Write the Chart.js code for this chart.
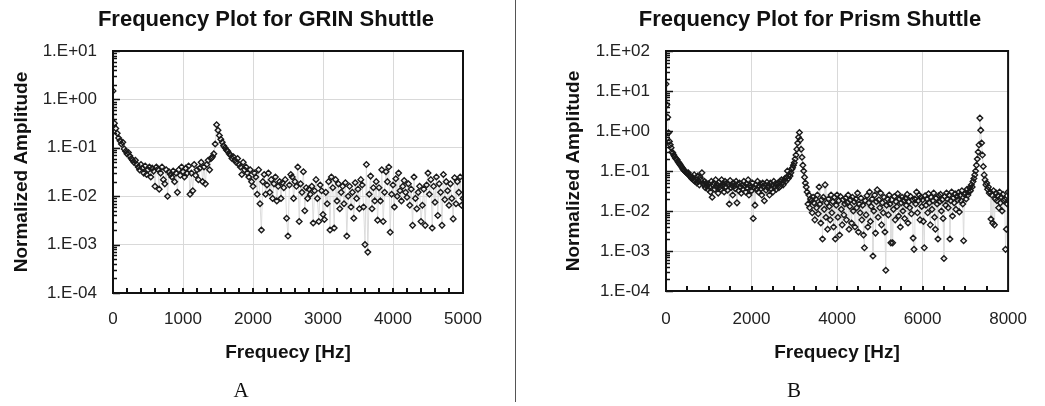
<!DOCTYPE html>
<html>
<head>
<meta charset="utf-8">
<script src="https://cdn.jsdelivr.net/npm/chart.js@4.4.1/dist/chart.umd.min.js"></script>
<style>
  body { margin: 0; background: #fff; width: 1045px; height: 406px; position: relative; overflow: hidden; font-family: "Liberation Sans", Arial, sans-serif; }
  canvas { position: absolute; top: 0; }
  #chartA { left: 0; }
  #chartB { left: 520px; }
  .title { position: absolute; top: 6px; font-weight: bold; font-size: 22px; line-height: 26px; white-space: nowrap; transform: translateX(-50%); color: #111; }
  .panel { position: absolute; top: 378px; font-family: "Liberation Serif", "Times New Roman", serif; font-size: 21px; line-height: 24px; transform: translateX(-50%); color: #111; }
  .divider { position: absolute; left: 515px; top: 0; width: 1px; height: 402px; background: #555; }
</style>
</head>
<body>
<canvas id="chartA" width="515" height="406"></canvas>
<canvas id="chartB" width="525" height="406"></canvas>
<div class="title" style="left:266px">Frequency Plot for GRIN Shuttle</div>
<div class="title" style="left:810px">Frequency Plot for Prism Shuttle</div>
<div class="divider"></div>
<div class="panel" style="left:241px">A</div>
<div class="panel" style="left:794px">B</div>
<script>
// GRIN shuttle: one reading every 20 Hz, 0..5000 Hz
const freqStepA = 20;
const ampA = [
  1.5, 0.32, 0.25, 0.2, 0.16, 0.14, 0.12, 0.13, 0.095, 0.085,
  0.075, 0.08, 0.068, 0.06, 0.055, 0.05, 0.055, 0.045, 0.04, 0.035,
  0.045, 0.038, 0.03, 0.042, 0.028, 0.035, 0.04, 0.025, 0.038, 0.033,
  0.016, 0.04, 0.036, 0.014, 0.03, 0.04, 0.022, 0.018, 0.035, 0.01,
  0.032, 0.028, 0.025, 0.033, 0.02, 0.03, 0.012, 0.035, 0.027, 0.04,
  0.032, 0.025, 0.038, 0.03, 0.042, 0.011, 0.03, 0.013, 0.045, 0.027,
  0.035, 0.022, 0.038, 0.05, 0.02, 0.04, 0.018, 0.045, 0.055, 0.035,
  0.06, 0.065, 0.075, 0.12, 0.3, 0.23, 0.18, 0.15, 0.13, 0.11,
  0.1, 0.09, 0.085, 0.075, 0.07, 0.06, 0.065, 0.055, 0.05, 0.06,
  0.045, 0.04, 0.028, 0.05, 0.035, 0.04, 0.03, 0.025, 0.035, 0.02,
  0.016, 0.03, 0.025, 0.011, 0.035, 0.007, 0.002, 0.02, 0.028, 0.011,
  0.017, 0.03, 0.012, 0.022, 0.009, 0.018, 0.025, 0.008, 0.016, 0.02,
  0.009, 0.019, 0.015, 0.022, 0.0035, 0.0015, 0.017, 0.028, 0.025, 0.009,
  0.02, 0.016, 0.04, 0.003, 0.018, 0.012, 0.032, 0.005, 0.015, 0.009,
  0.014, 0.011, 0.016, 0.0028, 0.013, 0.022, 0.009, 0.003, 0.017, 0.013,
  0.0042, 0.0033, 0.012, 0.007, 0.02, 0.002, 0.025, 0.015, 0.0022, 0.022,
  0.008, 0.018, 0.0055, 0.012, 0.016, 0.007, 0.019, 0.0015, 0.01, 0.016,
  0.006, 0.012, 0.0035, 0.019, 0.009, 0.014, 0.0055, 0.022, 0.017, 0.006,
  0.001, 0.045, 0.0007, 0.011, 0.026, 0.0055, 0.015, 0.008, 0.02, 0.0032,
  0.015, 0.008, 0.035, 0.003, 0.012, 0.032, 0.02, 0.04, 0.0018, 0.011,
  0.017, 0.006, 0.023, 0.01, 0.03, 0.013, 0.008, 0.016, 0.021, 0.012,
  0.0095, 0.018, 0.0065, 0.014, 0.0025, 0.025, 0.009, 0.0055, 0.012, 0.016,
  0.003, 0.0065, 0.014, 0.0025, 0.017, 0.03, 0.011, 0.022, 0.0022, 0.016,
  0.0075, 0.025, 0.004, 0.018, 0.012, 0.0025, 0.028, 0.0085, 0.02, 0.013,
  0.0065, 0.018, 0.009, 0.0034, 0.024, 0.007, 0.02, 0.012, 0.025, 0.0065,
  0.009
];
const xTicksA = [0, 1000, 2000, 3000, 4000, 5000];
const yTicksA = [1e-4, 1e-3, 1e-2, 1e-1, 1, 10];
const yLabelsA = ["1.E-04", "1.E-03", "1.E-02", "1.E-01", "1.E+00", "1.E+01"];

// Prism shuttle: one reading every 20 Hz, 0..8000 Hz
const freqStepB = 20;
const ampB = [
  15, 4.5, 2.2, 0.9, 0.55, 0.45, 0.38, 0.3, 0.28, 0.25,
  0.23, 0.21, 0.2, 0.19, 0.17, 0.16, 0.15, 0.14, 0.13, 0.12,
  0.11, 0.105, 0.1, 0.095, 0.09, 0.085, 0.09, 0.08, 0.075, 0.07,
  0.065, 0.07, 0.06, 0.08, 0.055, 0.06, 0.05, 0.075, 0.055, 0.045,
  0.07, 0.06, 0.09, 0.05, 0.045, 0.055, 0.038, 0.05, 0.042, 0.035,
  0.048, 0.04, 0.03, 0.055, 0.022, 0.045, 0.05, 0.035, 0.06, 0.04,
  0.045, 0.028, 0.052, 0.04, 0.035, 0.06, 0.042, 0.048, 0.03, 0.055,
  0.04, 0.05, 0.033, 0.045, 0.015, 0.058, 0.038, 0.044, 0.025, 0.05,
  0.042, 0.036, 0.055, 0.016, 0.047, 0.032, 0.05, 0.04, 0.028, 0.045,
  0.035, 0.055, 0.042, 0.03, 0.048, 0.038, 0.06, 0.025, 0.044, 0.04,
  0.032, 0.05, 0.0065, 0.038, 0.014, 0.045, 0.035, 0.055, 0.03, 0.042,
  0.048, 0.036, 0.025, 0.05, 0.04, 0.018, 0.045, 0.033, 0.052, 0.038,
  0.043, 0.025, 0.05, 0.036, 0.044, 0.03, 0.055, 0.04, 0.048, 0.035,
  0.045, 0.05, 0.038, 0.055, 0.042, 0.06, 0.05, 0.045, 0.058, 0.065,
  0.055, 0.07, 0.1, 0.065, 0.08, 0.075, 0.09, 0.11, 0.12, 0.14,
  0.16, 0.2, 0.25, 0.35, 0.5, 0.7, 0.92, 0.6, 0.35, 0.22,
  0.14, 0.1, 0.07, 0.05, 0.04, 0.03, 0.015, 0.025, 0.012, 0.02,
  0.018, 0.009, 0.022, 0.016, 0.006, 0.02, 0.012, 0.025, 0.0085, 0.04,
  0.015, 0.005, 0.019, 0.002, 0.022, 0.011, 0.045, 0.007, 0.016, 0.0035,
  0.02, 0.013, 0.006, 0.025, 0.009, 0.017, 0.004, 0.022, 0.002, 0.014,
  0.025, 0.007, 0.018, 0.0025, 0.023, 0.011, 0.0045, 0.019, 0.008, 0.015,
  0.021, 0.006, 0.016, 0.025, 0.0035, 0.013, 0.019, 0.005, 0.022, 0.01,
  0.017, 0.004, 0.02, 0.012, 0.028, 0.003, 0.015, 0.009, 0.021, 0.006,
  0.014, 0.0025, 0.0012, 0.018, 0.008, 0.024, 0.004, 0.016, 0.03, 0.0055,
  0.013, 0.02, 0.00075, 0.01, 0.025, 0.0028, 0.017, 0.034, 0.007, 0.019,
  0.012, 0.028, 0.0045, 0.016, 0.009, 0.022, 0.003, 0.00033, 0.014, 0.02,
  0.008, 0.025, 0.015, 0.0016, 0.019, 0.0016, 0.011, 0.023, 0.006, 0.017,
  0.013, 0.027, 0.0075, 0.02, 0.004, 0.016, 0.022, 0.01, 0.018, 0.0065,
  0.021, 0.014, 0.026, 0.005, 0.017, 0.012, 0.023, 0.0085, 0.019, 0.0021,
  0.0011, 0.02, 0.015, 0.03, 0.009, 0.018, 0.025, 0.006, 0.022, 0.013,
  0.019, 0.0055, 0.0012, 0.024, 0.014, 0.02, 0.009, 0.027, 0.016, 0.0045,
  0.022, 0.011, 0.018, 0.028, 0.007, 0.0035, 0.021, 0.015, 0.002, 0.024,
  0.017, 0.026, 0.01, 0.019, 0.0065, 0.00065, 0.023, 0.014, 0.028, 0.02,
  0.012, 0.025, 0.002, 0.018, 0.03, 0.0075, 0.021, 0.016, 0.027, 0.011,
  0.023, 0.019, 0.029, 0.0095, 0.025, 0.018, 0.032, 0.015, 0.0018, 0.026,
  0.028, 0.02, 0.035, 0.025, 0.03, 0.038, 0.032, 0.045, 0.04, 0.055,
  0.065, 0.08, 0.1, 0.14, 0.2, 0.3, 0.45, 2.1, 1.05, 0.5,
  0.25, 0.13, 0.08, 0.06, 0.045, 0.05, 0.035, 0.04, 0.028, 0.03,
  0.0063, 0.025, 0.005, 0.032, 0.0045, 0.02, 0.028, 0.018, 0.024, 0.012,
  0.03, 0.016, 0.022, 0.01, 0.026, 0.018, 0.02, 0.0011, 0.0035, 0.015,
  0.03
];
const xTicksB = [0, 2000, 4000, 6000, 8000];
const yTicksB = [1e-4, 1e-3, 1e-2, 1e-1, 1, 10, 100];
const yLabelsB = ["1.E-04", "1.E-03", "1.E-02", "1.E-01", "1.E+00", "1.E+01", "1.E+02"];

const family = '"Liberation Sans", Arial, sans-serif';
const tickFont = { family: family, size: 17 };
const axisFont = { family: family, size: 19, weight: "bold" };

// black frame round the plot plus the small inward tick marks
function frame(minorX) {
  return {
    id: "frame",
    afterDatasetsDraw(chart) {
      const { ctx, chartArea: a, scales: { x, y } } = chart;
      ctx.save();
      ctx.strokeStyle = "#111";
      ctx.lineWidth = 2;
      for (let v = x.min + minorX; v < x.max; v += minorX) {
        const px = Math.round(x.getPixelForValue(v));
        ctx.beginPath();
        ctx.moveTo(px, a.bottom);
        ctx.lineTo(px, a.bottom - 5);
        ctx.stroke();
      }
      ctx.lineWidth = 1.5;
      for (let d = y.min; d < y.max * 1.001; d *= 10) {
        for (let k = 1; k <= 9; k++) {
          const v = d * k;
          if (v > y.max * 1.001) break;
          const py = Math.round(y.getPixelForValue(v)) + 0.5;
          ctx.beginPath();
          ctx.moveTo(a.left, py);
          ctx.lineTo(a.left + (k === 1 ? 7 : 4), py);
          ctx.stroke();
        }
      }
      ctx.lineWidth = 2;
      ctx.strokeRect(a.left, a.top, a.right - a.left, a.bottom - a.top);
      ctx.restore();
    }
  };
}

function drawSpectrum(id, s) {
  return new Chart(document.getElementById(id), {
    type: "scatter",
    data: {
      datasets: [{
        data: s.amp.map((v, i) => ({ x: i * s.step, y: v })),
        showLine: true,
        borderColor: "#dcdcdc",
        borderWidth: 1,
        pointStyle: "rectRot",
        pointRadius: 2.8,
        pointBorderWidth: 1.4,
        pointBorderColor: "#1a1a1a",
        pointBackgroundColor: "rgba(255,255,255,0)"
      }]
    },
    options: {
      responsive: false,
      animation: false,
      events: [],
      layout: { padding: s.pad },
      plugins: { legend: { display: false }, tooltip: { enabled: false } },
      scales: {
        x: {
          type: "linear",
          min: s.xTicks[0],
          max: s.xTicks[s.xTicks.length - 1],
          afterBuildTicks: sc => { sc.ticks = s.xTicks.map(v => ({ value: v })); },
          afterFit: sc => { sc.height = s.xHeight; },
          grid: { color: "#d9d9d9", drawTicks: false },
          border: { display: false },
          ticks: { padding: s.xPad, color: "#222", font: tickFont, maxRotation: 0, autoSkip: false, callback: v => String(v) },
          title: { display: true, text: "Frequecy [Hz]", color: "#111", font: axisFont, padding: { top: 0, bottom: 2 } }
        },
        y: {
          type: "logarithmic",
          min: s.yTicks[0],
          max: s.yTicks[s.yTicks.length - 1],
          afterBuildTicks: sc => { sc.ticks = s.yTicks.map(v => ({ value: v })); },
          afterFit: sc => { sc.width = s.yWidth; },
          grid: { color: "#d9d9d9", drawTicks: false },
          border: { display: false },
          ticks: { padding: 16, color: "#222", font: tickFont, autoSkip: false, callback: (v, i) => s.yLabels[i] },
          title: { display: true, text: "Normalized Amplitude", color: "#111", font: axisFont, padding: { top: s.yTitlePad, bottom: 0 } }
        }
      }
    },
    plugins: [frame(s.minorX)]
  });
}

drawSpectrum("chartA", {
  step: freqStepA, amp: ampA, xTicks: xTicksA, yTicks: yTicksA, yLabels: yLabelsA,
  pad: { top: 51, right: 52, bottom: 40, left: 0 }, xHeight: 73, xPad: 16, yWidth: 113, yTitlePad: 10, minorX: 200
});
drawSpectrum("chartB", {
  step: freqStepB, amp: ampB, xTicks: xTicksB, yTicks: yTicksB, yLabels: yLabelsB,
  pad: { top: 51, right: 30, bottom: 40, left: 0 }, xHeight: 75, xPad: 18, yWidth: 146, yTitlePad: 42, minorX: 500
});
</script>
</body>
</html>
